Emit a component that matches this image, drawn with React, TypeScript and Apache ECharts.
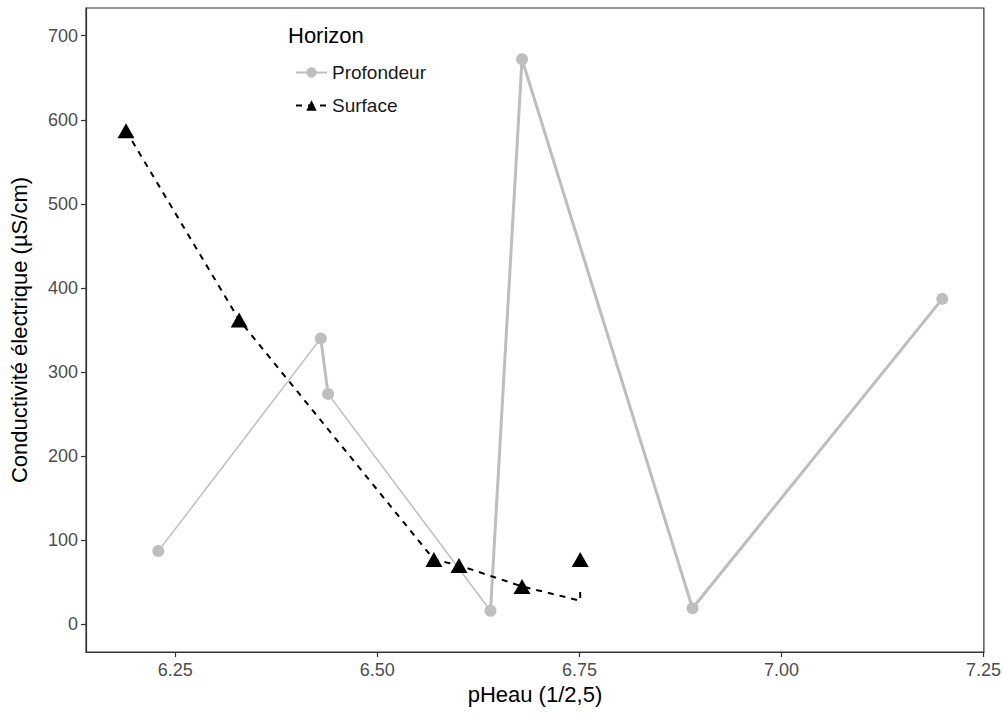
import React, { useEffect, useRef } from "react";
import * as echarts from "echarts";

const profX = [6.229, 6.430, 6.439, 6.640, 6.679, 6.890, 7.199];
const profY = [87, 340, 274, 16, 672, 19, 387];
// segments (i -> i+1) drawn twice in the original (overlapping rows)
const profDoubled = [false, true, false, true, true, true];

const surfX = [6.189, 6.329, 6.570, 6.601, 6.679, 6.751, 6.751, 6.751];
const surfY = [587, 362, 77, 70, 45, 28, 43, 77];
const surfMarker = [true, true, true, true, true, false, false, true];
const surfBreakBefore = [false, false, false, false, false, false, false, true];

const xTicks = [6.25, 6.5, 6.75, 7.0, 7.25];
const yTicks = [0, 100, 200, 300, 400, 500, 600, 700];

const FONT = "Arial, 'Liberation Sans', sans-serif";
const GRAY = "#bebebe";

export default function App() {
  const ref = useRef<HTMLDivElement>(null);
  useEffect(() => {
    if (!ref.current) return;
    const chart = echarts.init(ref.current, null, { renderer: "svg" });

    const profData = profX.map((x, i) => [x, profY[i]]);
    const thickData: any[] = [];
    profDoubled.forEach((d, i) => {
      if (d) {
        const last = thickData[thickData.length - 1];
        if (!last || last[0] !== profX[i] || last[1] !== profY[i]) {
          if (thickData.length) thickData.push([profX[i], "-"]);
          thickData.push([profX[i], profY[i]]);
        }
        thickData.push([profX[i + 1], profY[i + 1]]);
      }
    });

    const surfData: any[] = [];
    surfX.forEach((x, i) => {
      if (surfBreakBefore[i]) surfData.push([x, "-"]);
      surfData.push(
        surfMarker[i] ? { value: [x, surfY[i]] } : { value: [x, surfY[i]], symbol: "none" }
      );
    });

    chart.setOption({
      animation: false,
      backgroundColor: "#ffffff",
      grid: {
        left: 86,
        top: 8,
        right: 17,
        bottom: 62,
        show: true,
        borderColor: "#333333",
        borderWidth: 1.2,
        containLabel: false,
      },
      xAxis: {
        type: "value",
        min: 6.1395,
        max: 7.2505,
        name: "pHeau (1/2,5)",
        nameLocation: "middle",
        nameGap: 31,
        nameTextStyle: { fontFamily: FONT, fontSize: 22, color: "#000" },
        axisLine: { show: true, onZero: false, lineStyle: { color: "#333333", width: 1.2 } },
        axisTick: {
          show: true,
          length: 5,
          customValues: xTicks,
          lineStyle: { color: "#333333", width: 1.2 },
        },
        axisLabel: {
          customValues: xTicks,
          formatter: (v: number) => v.toFixed(2),
          fontFamily: FONT,
          fontSize: 18,
          color: "#4d4d4d",
          margin: 9,
          showMinLabel: true,
          showMaxLabel: true,
        },
        splitLine: { show: false },
      },
      yAxis: {
        type: "value",
        min: -33,
        max: 733,
        name: "Conductivité électrique (µS/cm)",
        nameLocation: "middle",
        nameGap: 56,
        nameRotate: 90,
        nameTextStyle: { fontFamily: FONT, fontSize: 22, color: "#000" },
        axisLine: { show: true, onZero: false, lineStyle: { color: "#333333", width: 1.2 } },
        axisTick: {
          show: true,
          length: 5,
          customValues: yTicks,
          lineStyle: { color: "#333333", width: 1.2 },
        },
        axisLabel: {
          customValues: yTicks,
          fontFamily: FONT,
          fontSize: 18,
          color: "#4d4d4d",
          margin: 8,
        },
        splitLine: { show: false },
      },
      legend: {
        data: ["Profondeur", "Surface"],
        orient: "vertical",
        left: 290,
        top: 58,
        itemWidth: 31,
        itemHeight: 13,
        itemGap: 14,
        textStyle: { fontFamily: FONT, fontSize: 19, color: "#1a1a1a" },
        selectedMode: false,
      },
      graphic: [
        {
          type: "text",
          left: 288,
          top: 24,
          style: { text: "Horizon", font: `22px ${FONT}`, fill: "#000" },
        },
      ],
      series: [
        {
          name: "Profondeur",
          type: "line",
          data: profData,
          symbol: "circle",
          symbolSize: 12,
          showSymbol: true,
          lineStyle: { color: GRAY, width: 1.5 },
          itemStyle: { color: GRAY },
          z: 2,
        },
        {
          name: "ProfondeurDouble",
          type: "line",
          data: thickData,
          symbol: "none",
          connectNulls: false,
          lineStyle: { color: GRAY, width: 3 },
          z: 1,
        },
        {
          name: "Surface",
          type: "line",
          data: surfData,
          symbol: "triangle",
          symbolSize: [17, 15],
          showSymbol: true,
          connectNulls: false,
          lineStyle: { color: "#000", width: 2, type: [6, 6] },
          itemStyle: { color: "#000" },
          z: 3,
        },
      ],
    });
    return () => chart.dispose();
  }, []);
  return (
    <div
      ref={ref}
      style={{ position: "absolute", left: 0, top: 0, width: 1004, height: 714 }}
    />
  );
}
